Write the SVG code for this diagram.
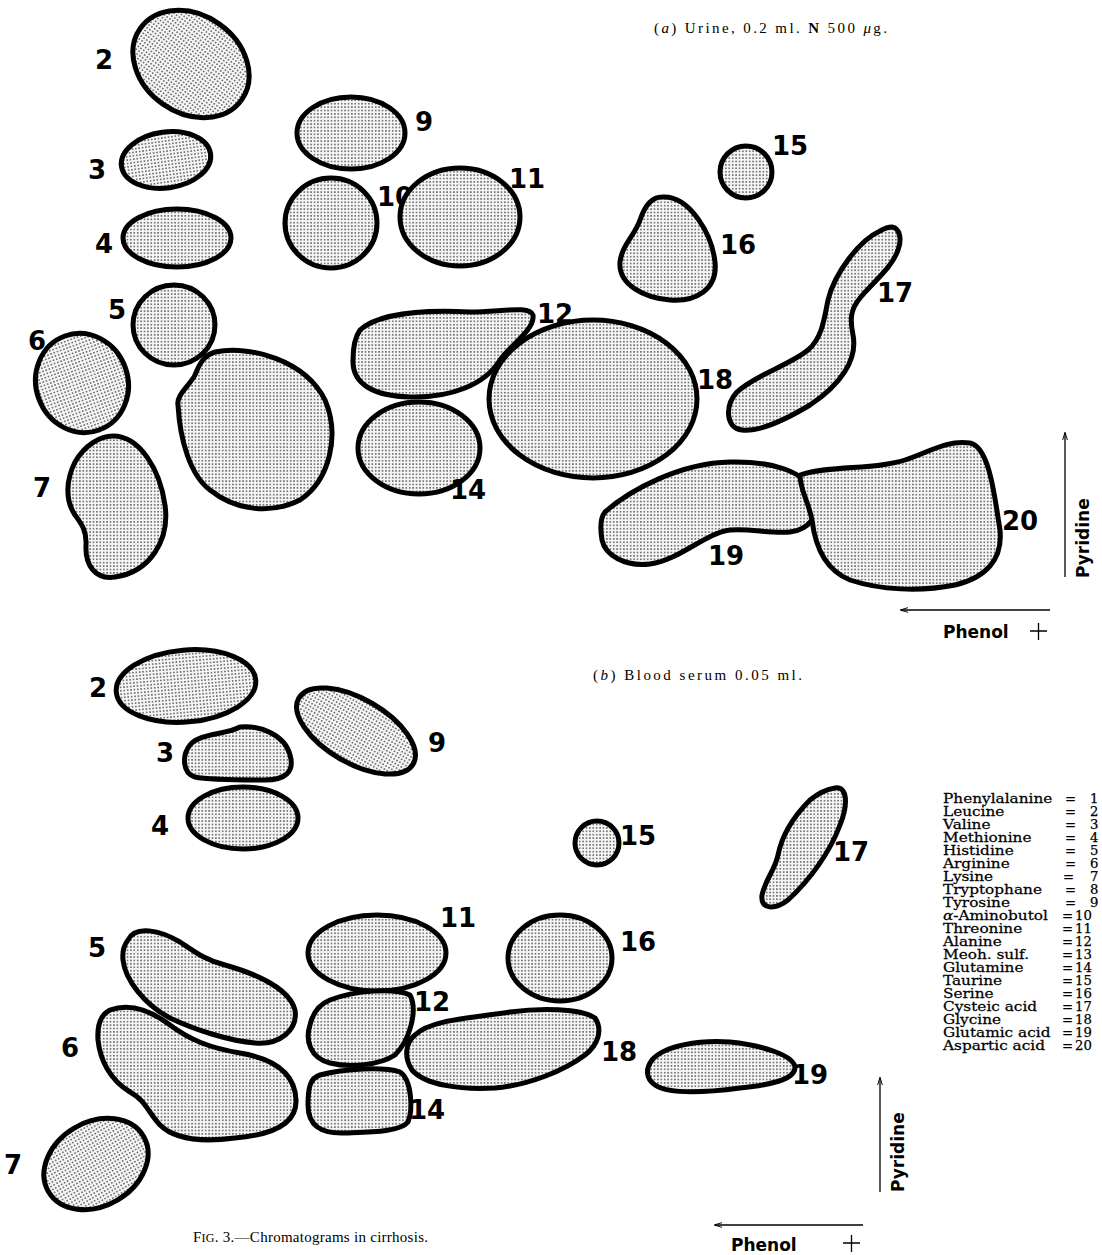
<svg xmlns="http://www.w3.org/2000/svg" width="1102" height="1255" viewBox="0 0 1102 1255">
<defs>
<pattern id="dots" width="3.4" height="3.4" patternUnits="userSpaceOnUse">
<rect width="3.4" height="3.4" fill="#f6f6f6"/>
<circle cx="1.7" cy="1.7" r="0.75" fill="#3a3a3a"/>
</pattern>
<marker id="ah" viewBox="0 0 10 10" refX="9" refY="5" markerWidth="8" markerHeight="8" orient="auto-start-reverse" markerUnits="userSpaceOnUse">
<path d="M0,2 L10,5 L0,8" fill="none" stroke="#000" stroke-width="1.2"/>
</marker>
</defs>
<style>
.spot{fill:url(#dots);stroke:#000;stroke-width:5;stroke-linejoin:round}
.lab{font-family:"DejaVu Sans",sans-serif;font-weight:bold;font-size:26px;fill:#000;text-anchor:middle;dominant-baseline:central}
.leg{font-family:"DejaVu Serif",serif;font-size:13.2px;fill:#000;stroke:#000;stroke-width:0.25}
.cap{font-family:"Liberation Serif",serif;font-size:15px;fill:#000}
.axis{font-family:"DejaVu Sans",sans-serif;font-weight:bold;font-size:17px;fill:#000}
.ax{stroke:#000;stroke-width:1.3;fill:none}
</style>
<rect width="1102" height="1255" fill="#fff"/>

<!-- (a) Urine -->
<g id="panel-a">
<text class="cap" x="654" y="33" textLength="233" lengthAdjust="spacing">(<tspan font-style="italic">a</tspan>) Urine, 0.2 ml. <tspan font-weight="bold">N</tspan> 500 <tspan font-style="italic">μ</tspan>g.</text>
<g id="a2"><ellipse class="spot" cx="191" cy="64" rx="62" ry="49" transform="rotate(35 191 64)"/><text class="lab" x="104" y="60">2</text></g>
<g id="a9"><ellipse class="spot" cx="351" cy="133" rx="54" ry="36"/><text class="lab" x="424" y="122">9</text></g>
<g id="a3"><ellipse class="spot" cx="166" cy="160" rx="45" ry="28" transform="rotate(-8 166 160)"/><text class="lab" x="97" y="170">3</text></g>
<g id="a10"><ellipse class="spot" cx="331" cy="223" rx="46" ry="45"/><text class="lab" x="395" y="197" font-size="20">10</text></g>
<g id="a11"><ellipse class="spot" cx="460" cy="217" rx="60" ry="49"/><text class="lab" x="527" y="179">11</text></g>
<g id="a15"><ellipse class="spot" cx="746" cy="172" rx="26" ry="26"/><text class="lab" x="790" y="146">15</text></g>
<g id="a16"><path class="spot" d="M 662 197 C 690 195, 712 235, 715 262 C 718 290, 695 302, 670 300 C 645 298, 618 285, 620 262 C 622 245, 635 235, 640 220 C 645 205, 652 197, 662 197 Z"/><text class="lab" x="738" y="245">16</text></g>
<g id="a4"><ellipse class="spot" cx="177" cy="238" rx="54" ry="29"/><text class="lab" x="104" y="244">4</text></g>
<g id="a17"><path class="spot" d="M 892 227 C 900 228, 902 240, 898 250 C 892 268, 872 283, 860 298 C 850 310, 850 320, 853 335 C 858 360, 840 385, 810 405 C 785 420, 760 432, 742 430 C 725 428, 725 405, 737 392 C 755 375, 790 365, 808 350 C 822 338, 824 320, 828 300 C 835 272, 860 240, 880 231 C 885 228, 889 227, 892 227 Z"/><text class="lab" x="895" y="293">17</text></g>
<g id="a5"><ellipse class="spot" cx="174" cy="325" rx="41" ry="40"/><text class="lab" x="117" y="310">5</text></g>
<g id="a6"><ellipse class="spot" cx="82" cy="383" rx="46" ry="50" transform="rotate(-20 82 383)"/><text class="lab" x="37" y="341">6</text></g>
<g id="a7"><path class="spot" d="M 113 436 C 140 436, 160 470, 165 505 C 170 540, 150 572, 115 577 C 95 580, 85 565, 86 545 C 87 530, 80 522, 75 515 C 65 500, 66 480, 75 462 C 85 445, 100 436, 113 436 Z"/><text class="lab" x="42" y="488">7</text></g>
<g id="a8"><path class="spot" d="M 215 352 C 250 345, 305 360, 325 400 C 340 435, 330 480, 300 500 C 270 515, 235 510, 210 490 C 190 475, 180 440, 178 405 C 176 395, 190 385, 195 375 C 200 362, 205 355, 215 352 Z"/></g>
<g id="a12"><path class="spot" d="M 360 330 C 380 312, 430 310, 470 312 C 500 312, 530 305, 533 315 C 535 330, 510 345, 500 360 C 485 385, 450 398, 410 397 C 375 396, 352 385, 353 360 C 353 345, 355 337, 360 330 Z"/><text class="lab" x="555" y="314">12</text></g>
<g id="a14"><ellipse class="spot" cx="419" cy="448" rx="61" ry="46"/><text class="lab" x="468" y="490">14</text></g>
<g id="a18"><ellipse class="spot" cx="593" cy="399" rx="104" ry="79"/><text class="lab" x="715" y="380">18</text></g>
<g id="a19"><path class="spot" d="M 605 512 C 630 490, 680 463, 730 462 C 770 461, 805 470, 815 495 C 822 515, 808 530, 790 532 C 770 534, 750 528, 730 530 C 705 533, 680 560, 650 564 C 625 567, 605 555, 602 540 C 600 528, 600 518, 605 512 Z"/><text class="lab" x="726" y="556">19</text></g>
<g id="a20"><path class="spot" d="M 800 475 C 830 465, 875 470, 905 460 C 930 452, 945 440, 970 443 C 990 447, 995 500, 1000 530 C 1003 560, 985 578, 955 585 C 920 592, 880 590, 850 580 C 825 570, 815 545, 812 520 C 808 500, 800 490, 800 475 Z"/><text class="lab" x="1020" y="521">20</text></g>
<g id="axes-a">
<line class="ax" x1="1065" y1="577" x2="1065" y2="433" marker-end="url(#ah)"/>
<text class="axis" transform="translate(1089 578) rotate(-90)">Pyridine</text>
<line class="ax" x1="1050" y1="610" x2="901" y2="610" marker-end="url(#ah)"/>
<text class="axis" x="943" y="638">Phenol</text>
<path class="ax" d="M1030 631 H1047 M1038.5 623 V640"/>
</g>
</g>

<!-- (b) Blood serum -->
<g id="panel-b">
<text class="cap" x="593" y="680" textLength="209" lengthAdjust="spacing">(<tspan font-style="italic">b</tspan>) Blood serum  0.05 ml.</text>
<g id="b2"><ellipse class="spot" cx="186" cy="686" rx="70" ry="36" transform="rotate(-5 186 686)"/><text class="lab" x="98" y="688">2</text></g>
<g id="b9"><ellipse class="spot" cx="356" cy="731" rx="66" ry="32" transform="rotate(30 356 731)"/><text class="lab" x="437" y="743">9</text></g>
<g id="b3"><path class="spot" d="M 190 745 C 200 733, 225 735, 240 727 C 260 725, 285 735, 290 755 C 295 772, 285 780, 265 780 C 240 780, 210 780, 195 777 C 182 773, 182 755, 190 745 Z"/><text class="lab" x="165" y="753">3</text></g>
<g id="b4"><ellipse class="spot" cx="243" cy="818" rx="55" ry="31"/><text class="lab" x="160" y="826">4</text></g>
<g id="b15"><ellipse class="spot" cx="597" cy="843" rx="22" ry="22"/><text class="lab" x="638" y="836">15</text></g>
<g id="b17"><path class="spot" d="M 835 788 C 848 786, 848 805, 840 825 C 830 852, 810 880, 788 900 C 775 910, 760 910, 762 895 C 765 880, 775 870, 778 855 C 782 835, 795 815, 810 800 C 820 792, 828 789, 835 788 Z"/><text class="lab" x="851" y="852">17</text></g>
<g id="b11"><ellipse class="spot" cx="377" cy="953" rx="69" ry="38"/><text class="lab" x="458" y="918">11</text></g>
<g id="b16"><ellipse class="spot" cx="560" cy="958" rx="52" ry="43"/><text class="lab" x="638" y="942">16</text></g>
<g id="b5"><path class="spot" d="M 128 940 C 135 925, 160 930, 180 942 C 195 952, 205 960, 225 965 C 260 975, 290 990, 295 1010 C 298 1030, 280 1045, 255 1043 C 230 1041, 195 1030, 170 1018 C 145 1005, 125 980, 123 960 C 122 950, 124 945, 128 940 Z"/><text class="lab" x="97" y="948">5</text></g>
<g id="b6"><path class="spot" d="M 110 1010 C 130 1003, 150 1010, 170 1025 C 190 1040, 210 1048, 240 1053 C 270 1058, 295 1070, 296 1100 C 297 1125, 270 1135, 235 1138 C 205 1142, 175 1140, 160 1125 C 148 1112, 145 1100, 130 1092 C 110 1080, 100 1060, 98 1040 C 97 1025, 100 1015, 110 1010 Z"/><text class="lab" x="70" y="1048">6</text></g>
<g id="b12"><path class="spot" d="M 330 1000 C 355 990, 395 988, 410 995 C 418 1010, 410 1040, 395 1055 C 380 1065, 350 1068, 330 1063 C 310 1058, 305 1040, 310 1025 C 313 1012, 320 1004, 330 1000 Z"/><text class="lab" x="432" y="1002">12</text></g>
<g id="b14"><path class="spot" d="M 320 1075 C 345 1068, 385 1067, 400 1072 C 412 1080, 413 1110, 408 1122 C 400 1132, 370 1132, 345 1133 C 320 1134, 308 1125, 308 1105 C 308 1088, 310 1078, 320 1075 Z"/><text class="lab" x="427" y="1110">14</text></g>
<g id="b18"><path class="spot" d="M 415 1035 C 430 1020, 470 1018, 510 1012 C 540 1008, 580 1008, 595 1018 C 603 1030, 598 1045, 585 1055 C 565 1070, 530 1085, 495 1088 C 460 1090, 425 1085, 412 1070 C 404 1058, 405 1043, 415 1035 Z"/><text class="lab" x="619" y="1052">18</text></g>
<g id="b19"><path class="spot" d="M 652 1060 C 665 1045, 700 1040, 730 1042 C 760 1045, 795 1055, 795 1068 C 794 1080, 770 1085, 740 1088 C 710 1092, 670 1095, 655 1085 C 645 1078, 646 1068, 652 1060 Z"/><text class="lab" x="810" y="1075">19</text></g>
<g id="b7"><ellipse class="spot" cx="96" cy="1164" rx="55" ry="42" transform="rotate(-30 96 1164)"/><text class="lab" x="13" y="1165">7</text></g>
<g id="axes-b">
<line class="ax" x1="880" y1="1192" x2="880" y2="1078" marker-end="url(#ah)"/>
<text class="axis" transform="translate(904 1192) rotate(-90)">Pyridine</text>
<line class="ax" x1="863" y1="1225" x2="715" y2="1225" marker-end="url(#ah)"/>
<text class="axis" x="731" y="1251">Phenol</text>
<path class="ax" d="M843 1243 H860 M851.5 1235 V1252"/>
</g>
<text class="cap" x="193" y="1242" textLength="235" lengthAdjust="spacing">F<tspan font-size="12">IG</tspan>. 3.—Chromatograms in cirrhosis.</text>
</g>

<g id="legend" class="leg">
<g transform="translate(943 0) scale(1.16 1) translate(-943 0)">
<text x="943" y="803">Phenylalanine</text>
<text x="943" y="816">Leucine</text>
<text x="943" y="829">Valine</text>
<text x="943" y="842">Methionine</text>
<text x="943" y="855">Histidine</text>
<text x="943" y="868">Arginine</text>
<text x="943" y="881">Lysine</text>
<text x="943" y="894">Tryptophane</text>
<text x="943" y="907">Tyrosine</text>
<text x="943" y="920"><tspan font-style="italic">α</tspan>-Aminobutol</text>
<text x="943" y="933">Threonine</text>
<text x="943" y="946">Alanine</text>
<text x="943" y="959">Meoh. sulf.</text>
<text x="943" y="972">Glutamine</text>
<text x="943" y="985">Taurine</text>
<text x="943" y="998">Serine</text>
<text x="943" y="1011">Cysteic acid</text>
<text x="943" y="1024">Glycine</text>
<text x="943" y="1037">Glutamic acid</text>
<text x="943" y="1050">Aspartic acid</text>
</g>
<text x="1065" y="803">=</text><text x="1090" y="803">1</text>
<text x="1065" y="816">=</text><text x="1090" y="816">2</text>
<text x="1065" y="829">=</text><text x="1090" y="829">3</text>
<text x="1065" y="842">=</text><text x="1090" y="842">4</text>
<text x="1065" y="855">=</text><text x="1090" y="855">5</text>
<text x="1065" y="868">=</text><text x="1090" y="868">6</text>
<text x="1063" y="881">=</text><text x="1090" y="881">7</text>
<text x="1065" y="894">=</text><text x="1090" y="894">8</text>
<text x="1065" y="907">=</text><text x="1090" y="907">9</text>
<text x="1062" y="920">=</text><text x="1075" y="920">10</text>
<text x="1062" y="933">=</text><text x="1075" y="933">11</text>
<text x="1062" y="946">=</text><text x="1075" y="946">12</text>
<text x="1062" y="959">=</text><text x="1075" y="959">13</text>
<text x="1062" y="972">=</text><text x="1075" y="972">14</text>
<text x="1062" y="985">=</text><text x="1075" y="985">15</text>
<text x="1062" y="998">=</text><text x="1075" y="998">16</text>
<text x="1062" y="1011">=</text><text x="1075" y="1011">17</text>
<text x="1062" y="1024">=</text><text x="1075" y="1024">18</text>
<text x="1062" y="1037">=</text><text x="1075" y="1037">19</text>
<text x="1062" y="1050">=</text><text x="1075" y="1050">20</text>
</g>
</svg>
